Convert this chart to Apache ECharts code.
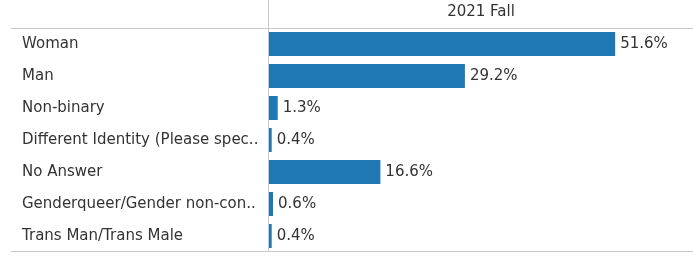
<!DOCTYPE html>
<html>
<head>
<meta charset="utf-8">
<script src="https://cdn.jsdelivr.net/npm/echarts@6/dist/echarts.min.js"></script>
<style>
  html, body { margin: 0; padding: 0; background: #fff; }
  #chart { width: 693px; height: 260px; }
</style>
</head>
<body>
<div id="chart"></div>
<script>
  var categories = [
    'Woman', 'Man', 'Non-binary', 'Different Identity (Please spec..',
    'No Answer', 'Genderqueer/Gender non-con..', 'Trans Man/Trans Male'
  ];
  var values = [51.6, 29.2, 1.3, 0.4, 16.6, 0.6, 0.4];
  var seriesName = '2021 Fall';

  var chart = echarts.init(document.getElementById('chart'));
  var lineColor = '#c8c8c8';

  chart.setOption({
    animation: false,
    textStyle: {fontFamily: 'DejaVu Sans, sans-serif'},
    grid: {left: 269, right: 0, top: 28, bottom: 8, outerBoundsMode: 'none'},
    xAxis: {
      type: 'value',
      position: 'top',
      min: 0,
      max: 63.2,
      name: seriesName,
      nameLocation: 'middle',
      nameGap: 8,
      nameTextStyle: {color: '#333', fontSize: 15},
      axisLine: {show: false},
      axisTick: {show: false},
      axisLabel: {show: false},
      splitLine: {show: false}
    },
    yAxis: {
      type: 'category',
      inverse: true,
      data: categories,
      axisLine: {show: false},
      axisTick: {show: false},
      axisLabel: {
        align: 'left',
        margin: 247,
        color: '#333',
        fontSize: 15
      }
    },
    series: [{
      name: seriesName,
      type: 'bar',
      data: values,
      barCategoryGap: '25%',
      barMinHeight: 2,
      itemStyle: {color: '#1f77b4'},
      label: {
        show: true,
        position: 'right',
        distance: 5,
        color: '#333',
        fontSize: 15,
        formatter: function (p) { return p.value.toFixed(1) + '%'; }
      }
    }],
    graphic: [
      {type: 'line', shape: {x1: 11, y1: 28.5, x2: 693, y2: 28.5}, style: {stroke: lineColor, lineWidth: 1}},
      {type: 'line', shape: {x1: 11, y1: 251.5, x2: 693, y2: 251.5}, style: {stroke: lineColor, lineWidth: 1}},
      {type: 'line', shape: {x1: 268.5, y1: 0, x2: 268.5, y2: 252}, style: {stroke: lineColor, lineWidth: 1}}
    ]
  });
</script>
</body>
</html>
